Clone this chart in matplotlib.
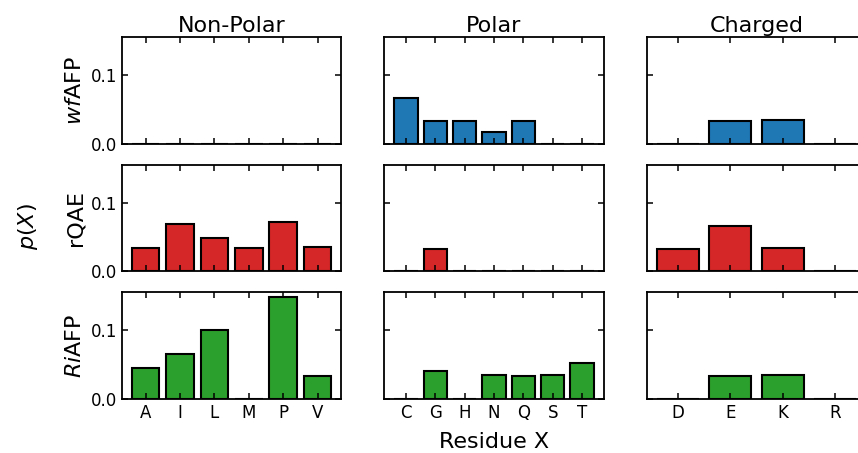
import matplotlib
matplotlib.use("Agg")
import matplotlib.pyplot as plt

# residue classes (columns)
groups = ["Non-Polar", "Polar", "Charged"]
nonpolar = ["A", "I", "L", "M", "P", "V"]
polar = ["C", "G", "H", "N", "Q", "S", "T"]
charged = ["D", "E", "K", "R"]

# proteins (rows)
proteins = ["$wf$AFP", "rQAE", "$Ri$AFP"]
colors = ["tab:blue", "tab:red", "tab:green"]

# p(X) per protein, per residue class
wfafp_nonpolar = [0, 0, 0, 0, 0, 0]
wfafp_polar = [0.0667, 0.0333, 0.0333, 0.0167, 0.0333, 0, 0]
wfafp_charged = [0, 0.0333, 0.0345, 0]

rqae_nonpolar = [0.0345, 0.0690, 0.0483, 0.0345, 0.0714, 0.0357]
rqae_polar = [0, 0.0333, 0, 0, 0, 0, 0]
rqae_charged = [0.0333, 0.0667, 0.0345, 0]

riafp_nonpolar = [0.0460, 0.0656, 0.1000, 0, 0.1480, 0.0333]
riafp_polar = [0, 0.0405, 0, 0.0357, 0.0333, 0.0357, 0.0530]
riafp_charged = [0, 0.0333, 0.0345, 0]

labels = [nonpolar, polar, charged]
values = [
    [wfafp_nonpolar, wfafp_polar, wfafp_charged],
    [rqae_nonpolar, rqae_polar, rqae_charged],
    [riafp_nonpolar, riafp_polar, riafp_charged],
]

fig, axes = plt.subplots(3, 3, figsize=(8.58, 4.53), dpi=100, sharey=True)
# right edge of the last column runs past the figure border (cropped in the original)
fig.subplots_adjust(left=0.1422, right=1.0093, top=0.918, bottom=0.119,
                    wspace=0.196, hspace=0.196)

for i in range(3):
    for j in range(3):
        ax = axes[i, j]
        x = list(range(len(labels[j])))
        ax.bar(x, values[i][j], width=0.8, color=colors[i],
               edgecolor="black", linewidth=1.5)
        ax.set_xticks(x)
        ax.set_yticks([0, 0.1])
        ax.tick_params(direction="in", top=True, right=True, length=4,
                       width=1.1, labelsize=12)
        for s in ax.spines.values():
            s.set_linewidth(1.3)
        if i < 2:
            ax.set_xticklabels([])
        else:
            ax.set_xticklabels(labels[j])
        if i == 0:
            ax.set_title(groups[j], fontsize=16, pad=4)
        if j == 0:
            ax.set_ylabel(proteins[i], fontsize=16)
            ax.set_yticklabels(["0.0", "0.1"])

axes[2, 1].set_xlabel("Residue X", fontsize=16, labelpad=7)
fig.text(0.033, 0.5, "$p(X)$", rotation=90, fontsize=16, ha="center", va="center")

fig.savefig("out.png", dpi=100)
